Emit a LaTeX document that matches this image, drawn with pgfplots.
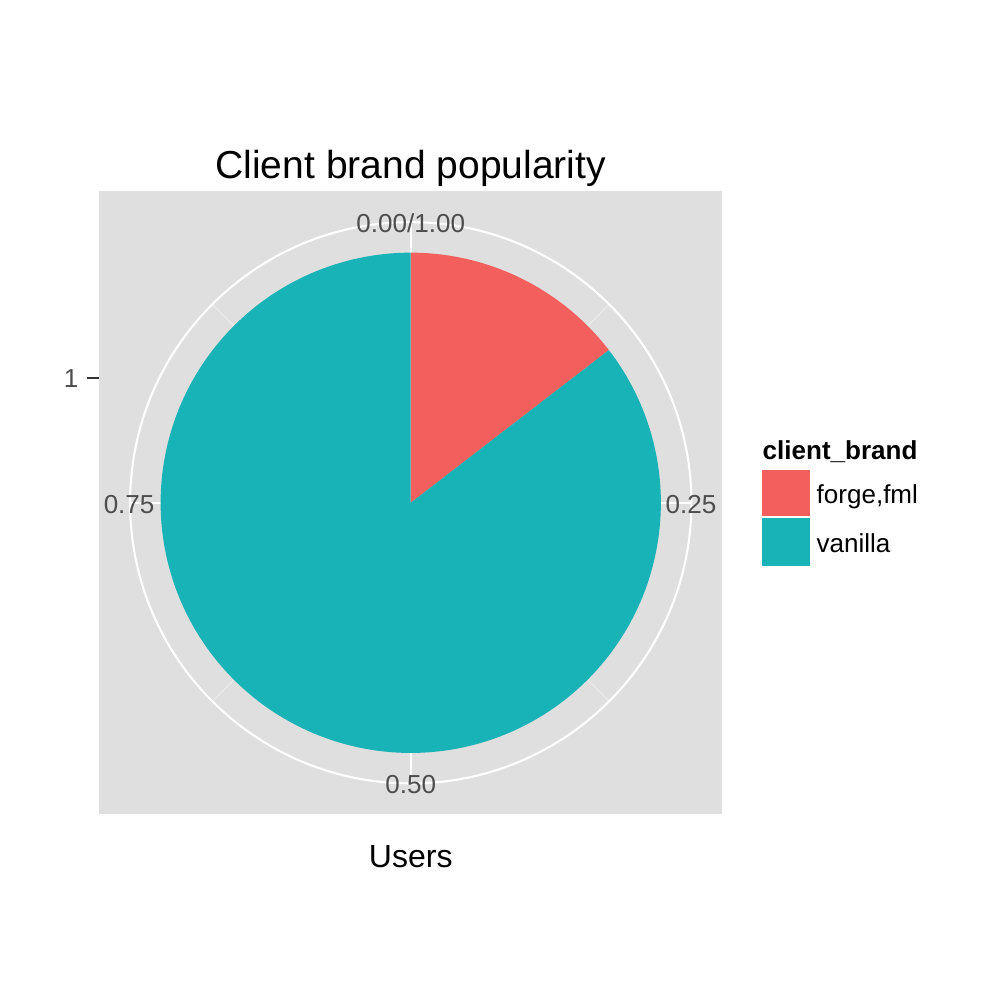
\documentclass[border=0pt]{standalone}
\usepackage{fontspec}
\setmainfont{Liberation Sans}
\usepackage{pgfplots}
\pgfplotsset{compat=1.18}
\definecolor{panel}{HTML}{DFDFDF}
\definecolor{minorgrid}{HTML}{ECECEC}
\definecolor{forgecol}{HTML}{F25F5C}
\definecolor{vanillacol}{HTML}{18B3B7}
\definecolor{axtext}{HTML}{4D4D4D}
\definecolor{axtick}{HTML}{333333}
\newcommand\tickfont{\fontsize{7.4}{8.9}\selectfont}
\newcommand\titlefont{\fontsize{11.1}{13.3}\selectfont}
\newcommand\labfont{\fontsize{9.1}{11}\selectfont}
% data: share of users per client brand
\def\forgefrac{0.1455}
\def\vanillafrac{0.8545}
\pgfmathsetmacro\forgeang{\forgefrac*360}
\pgfmathsetmacro\endang{(\forgefrac+\vanillafrac)*360}
\begin{document}
\begin{tikzpicture}[x=0.01cm,y=-0.01cm]
\useasboundingbox (0,0) rectangle (1000,1000);
\begin{axis}[
  at={(4.105cm,-5.025cm)}, anchor=center,
  scale only axis, width=6.23cm, height=6.23cm,
  xmin=-311.5, xmax=311.5, ymin=-311.5, ymax=311.5,
  axis background/.style={fill=panel},
  axis line style={draw=none},
  xtick=\empty,
  ytick={124.5}, yticklabels={1},
  ytick pos=left,
  tick align=outside,
  major tick length=0.12cm,
  every tick/.style={axtick, line width=0.55pt},
  yticklabel style={font=\tickfont, text=axtext, inner sep=0pt, xshift=-0.08cm},
  title={Client brand popularity},
  title style={font=\titlefont, at={(axis description cs:0.5,1)}, anchor=base, yshift=-0.0817cm, inner sep=0pt},
  xlabel={Users},
  xlabel style={font=\labfont, at={(axis description cs:0.5,0)}, anchor=base, yshift=-0.53cm, inner sep=0pt},
  clip=false,
]
% minor theta grid
\draw[minorgrid, line width=0.3pt] (axis cs:0,0) -- (axis cs:198.3,198.3);
\draw[minorgrid, line width=0.3pt] (axis cs:0,0) -- (axis cs:198.3,-198.3);
\draw[minorgrid, line width=0.3pt] (axis cs:0,0) -- (axis cs:-198.3,-198.3);
\draw[minorgrid, line width=0.3pt] (axis cs:0,0) -- (axis cs:-198.3,198.3);
% major theta grid
\draw[white, line width=0.55pt] (axis cs:0,0) -- (axis cs:0,280.5);
\draw[white, line width=0.55pt] (axis cs:0,0) -- (axis cs:280.5,0);
\draw[white, line width=0.55pt] (axis cs:0,0) -- (axis cs:0,-280.5);
\draw[white, line width=0.55pt] (axis cs:0,0) -- (axis cs:-280.5,0);
% outer circle
\draw[white, line width=0.6pt] (axis cs:0,0) circle [radius=280.5];
% pie wedges
\addplot[fill=forgecol, draw=none, domain=0:\forgeang, samples=120, variable=\t]
  ({250*sin(\t)},{250*cos(\t)}) -- (axis cs:0,0) -- cycle;
\addplot[fill=vanillacol, draw=none, domain=\forgeang:\endang, samples=300, variable=\t]
  ({250*sin(\t)},{250*cos(\t)}) -- (axis cs:0,0) -- cycle;
% theta labels
\node[font=\tickfont, text=axtext, anchor=base, inner sep=0pt] at (axis cs:0,270.5) {0.00/1.00};
\node[font=\tickfont, text=axtext, anchor=base, inner sep=0pt] at (axis cs:280,-10.2) {0.25};
\node[font=\tickfont, text=axtext, anchor=base, inner sep=0pt] at (axis cs:0,-290.2) {0.50};
\node[font=\tickfont, text=axtext, anchor=base, inner sep=0pt] at (axis cs:-281.5,-10.2) {0.75};
\end{axis}
% legend
\node[anchor=base west, inner sep=0pt, font=\tickfont\bfseries] at (762,459) {client\_brand};
\fill[forgecol] (762,470) rectangle (810,516);
\fill[vanillacol] (762,518) rectangle (810,566);
\node[anchor=base west, inner sep=0pt, font=\tickfont] at (816,503) {forge,fml};
\node[anchor=base west, inner sep=0pt, font=\tickfont] at (816,552) {vanilla};
\end{tikzpicture}
\end{document}
